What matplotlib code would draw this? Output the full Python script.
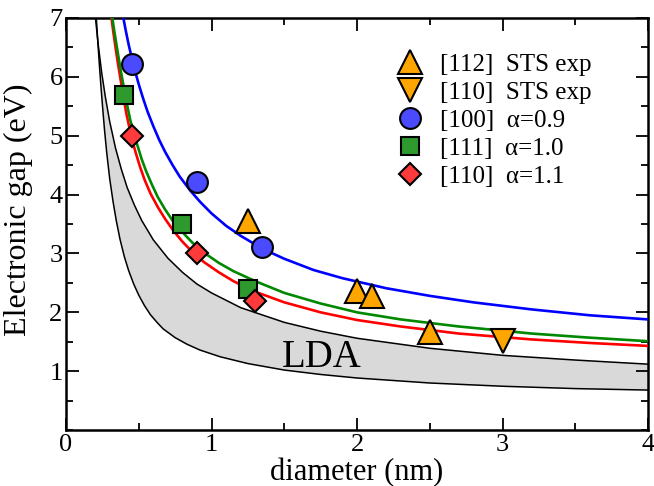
import numpy as np
import matplotlib
matplotlib.use("Agg")
import matplotlib.pyplot as plt
from matplotlib.ticker import MultipleLocator, FixedLocator

plt.rcParams['font.family'] = ['Liberation Serif', 'DejaVu Serif']

# measured points
d_112_sts = [1.25, 2.0, 2.1, 2.5]
e_112_sts = [3.55, 2.37, 2.27, 1.66]
d_110_sts = [3.0]
e_110_sts = [1.52]
d_100 = [0.45, 0.9, 1.35]
e_100 = [6.21, 4.21, 3.11]
d_111 = [0.40, 0.80, 1.25]
e_111 = [5.70, 3.50, 2.40]
d_110 = [0.45, 0.90, 1.30]
e_110 = [5.00, 3.00, 2.20]

# curves
d_blue = [0.39, 0.41, 0.43, 0.45, 0.475, 0.5, 0.53, 0.56, 0.6, 0.64, 0.68, 0.73,
          0.78, 0.85, 0.92, 1.0, 1.1, 1.2, 1.35, 1.5, 1.7, 1.9, 2.2, 2.5, 2.8,
          3.2, 3.6, 4.0]
e_blue = [7.05, 6.79, 6.55, 6.34, 6.09, 5.87, 5.63, 5.41, 5.16, 4.93, 4.73, 4.51,
          4.31, 4.08, 3.88, 3.68, 3.47, 3.30, 3.08, 2.91, 2.72, 2.58, 2.41, 2.28, 2.17,
          2.05, 1.95, 1.88]
d_green = [0.318, 0.33, 0.345, 0.36, 0.38, 0.40, 0.42, 0.44, 0.465, 0.495, 0.52,
           0.55, 0.59, 0.63, 0.68, 0.74, 0.8, 0.87, 0.95, 1.05, 1.15, 1.3, 1.5,
           1.75, 2.0, 2.3, 2.7, 3.2, 3.6, 4.0]
e_green = [7.00, 6.80, 6.57, 6.34, 6.05, 5.78, 5.52, 5.28, 5.04, 4.80, 4.60,
           4.40, 4.17, 3.96, 3.75, 3.53, 3.36, 3.18, 3.01, 2.84, 2.70, 2.53, 2.33,
           2.15, 2.00, 1.88, 1.76, 1.64, 1.57, 1.51]
d_red = [0.312, 0.325, 0.34, 0.357, 0.375, 0.395, 0.414, 0.435, 0.455, 0.48, 0.51,
         0.54, 0.58, 0.63, 0.68, 0.74, 0.8, 0.87, 0.95, 1.05, 1.15, 1.3, 1.5,
         1.75, 2.0, 2.3, 2.7, 3.2, 3.6, 4.0]
e_red = [7.00, 6.76, 6.50, 6.22, 5.95, 5.65, 5.38, 5.14, 4.92, 4.70, 4.46,
         4.25, 4.02, 3.79, 3.59, 3.38, 3.20, 3.02, 2.85, 2.68, 2.53, 2.35, 2.17,
         2.00, 1.87, 1.76, 1.64, 1.54, 1.48, 1.43]
d_lda_hi = [0.2, 0.22, 0.245, 0.27, 0.3, 0.34, 0.38, 0.42, 0.47, 0.52, 0.6, 0.7,
            0.8, 0.9, 1.0, 1.2, 1.5, 1.75, 2.0, 2.5, 3.0, 3.5, 4.0]
e_lda_hi = [7.05, 6.57, 6.07, 5.66, 5.24, 4.79, 4.43, 4.12, 3.82, 3.56, 3.23, 2.92,
            2.68, 2.48, 2.33, 2.08, 1.83, 1.68, 1.56, 1.39, 1.27, 1.19, 1.12]
d_lda_lo = [0.208, 0.215, 0.223, 0.232, 0.242, 0.253, 0.265, 0.28, 0.3, 0.323,
            0.345, 0.37, 0.40, 0.43, 0.465, 0.5, 0.54, 0.58, 0.625, 0.667, 0.75,
            0.83, 0.92, 1.06, 1.25, 1.5, 1.75, 2.0, 2.5, 3.0, 3.5, 4.0]
e_lda_lo = [7.00, 6.72, 6.42, 6.10, 5.77, 5.43, 5.08, 4.70, 4.27, 3.88,
            3.56, 3.25, 2.95, 2.71, 2.48, 2.29, 2.11, 1.96, 1.83, 1.72, 1.57,
            1.46, 1.36, 1.245, 1.13, 1.02, 0.945, 0.885, 0.80, 0.745, 0.705, 0.68]

fig = plt.figure(figsize=(6.54, 4.86), dpi=100)
ax = fig.add_axes([0.101, 0.115, 0.890, 0.848])

# gray LDA band
d_band = np.concatenate([d_lda_hi, d_lda_lo[::-1]])
e_band = np.concatenate([e_lda_hi, e_lda_lo[::-1]])
ax.fill(d_band, e_band, color='#d9d9d9', lw=0, zorder=1)
ax.plot(d_lda_hi, e_lda_hi, color='black', lw=1.1, zorder=2)
ax.plot(d_lda_lo, e_lda_lo, color='black', lw=1.1, zorder=2)

ax.plot(d_red, e_red, color='#ff0000', lw=1.9, zorder=3)
ax.plot(d_green, e_green, color='#008800', lw=1.9, zorder=3)
ax.plot(d_blue, e_blue, color='#0000ff', lw=1.9, zorder=3)

mk = dict(linestyle='none', markeredgecolor='black', markeredgewidth=1.5, zorder=5)
ax.plot(d_112_sts, e_112_sts, marker='^', ms=17.5, color='#ffa500',
        label='[112]  STS exp', **mk)
ax.plot(d_110_sts, e_110_sts, marker='v', ms=17.5, color='#ffa500',
        label='[110]  STS exp', **mk)
ax.plot(d_100, e_100, marker='o', ms=15, color='#4a4aff',
        label='[100]  α=0.9', **mk)
ax.plot(d_111, e_111, marker='s', ms=13.5, color='#2e9a2e',
        label='[111]  α=1.0', **mk)
ax.plot(d_110, e_110, marker='D', ms=11.5, color='#ff3a3a',
        label='[110]  α=1.1', **mk)

ax.text(1.76, 1.23, 'LDA', fontsize=28, ha='center', va='center', zorder=4)

ax.set_xlim(0, 4)
ax.set_ylim(0, 7)
ax.xaxis.set_major_locator(MultipleLocator(1))
ax.xaxis.set_minor_locator(MultipleLocator(0.5))
ax.yaxis.set_major_locator(FixedLocator([1, 2, 3, 4, 5, 6, 7]))
ax.yaxis.set_minor_locator(MultipleLocator(0.5))
ax.tick_params(which='both', direction='in', top=True, right=True, width=1.3)
ax.tick_params(which='major', length=9, labelsize=19, pad=2.5)
ax.tick_params(which='minor', length=5)
for s in ax.spines.values():
    s.set_linewidth(1.8)

ax.set_xlabel('diameter (nm)', fontsize=22)
ax.xaxis.set_label_coords(0.5, -0.068)
ax.set_ylabel('Electronic gap (eV)', fontsize=23)
ax.yaxis.set_label_coords(-0.057, 0.534)

ax.legend(loc='upper left', bbox_to_anchor=(0.589, 0.911),
          bbox_transform=fig.transFigure, frameon=False,
          fontsize=18, handletextpad=0.6, labelspacing=0.22, borderaxespad=0.0,
          borderpad=0.4, handlelength=1.2)

fig.savefig('out.png', dpi=100)
